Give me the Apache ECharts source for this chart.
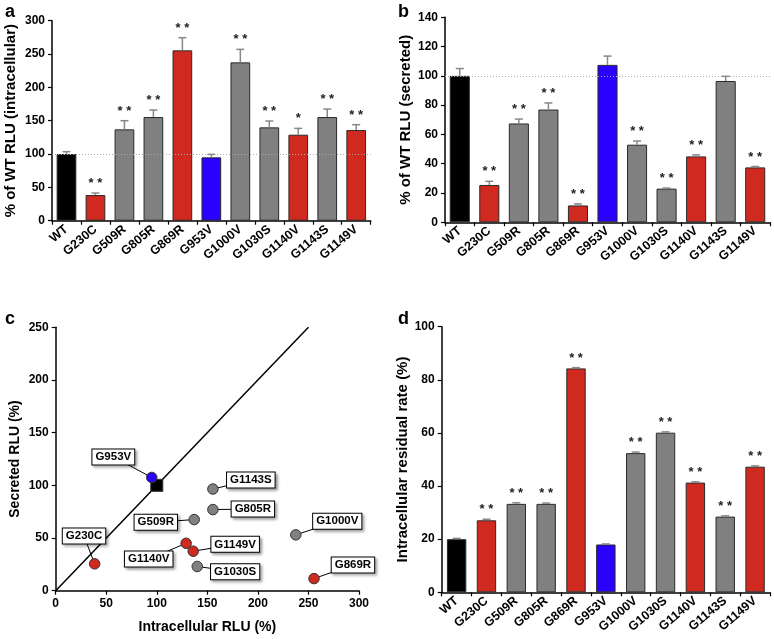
<!DOCTYPE html>
<html>
<head>
<meta charset="utf-8">
<script src="https://cdn.jsdelivr.net/npm/echarts@6/dist/echarts.min.js"></script>
<style>html,body{margin:0;padding:0;background:#fff}#c{width:774px;height:639px}</style>
</head>
<body>
<div id="c"></div>
<script>
// ---- data ----
const categories = ['WT','G230C','G509R','G805R','G869R','G953V','G1000V','G1030S','G1140V','G1143S','G1149V'];
const groups = ['wt','red','gray','gray','red','blue','gray','gray','red','gray','red'];
const intracellular = [100, 38.5, 137, 155.5, 255.5, 95, 237.5, 140, 129, 155.5, 136];
const intracellularErr = [3.5, 3, 13, 10.5, 19, 4.5, 19.5, 9.5, 9.5, 12, 8];
const intracellularSig = ['', '**', '**', '**', '**', '', '**', '**', '*', '**', '**'];
const secreted = [100, 25.5, 67.5, 77, 11.5, 107.5, 53, 23, 45, 96.5, 37.5];
const secretedErr = [5, 2.5, 3, 4.5, 1, 6, 2.5, 0.4, 1, 3.2, 0.6];
const secretedSig = ['', '**', '**', '**', '**', '', '**', '**', '**', '', '**'];
const residual = [20, 27.1, 33.3, 33.3, 84.3, 18, 52.4, 60.1, 41.3, 28.5, 47.3];
const residualErr = [0.3, 0.4, 0.4, 0.3, 0.3, 0.2, 0.4, 0.3, 0.3, 0.3, 0.3];
const residualSig = ['', '**', '**', '**', '**', '', '**', '**', '**', '**', '**'];
const ticksA = [0, 300, 50];
const ticksB = [0, 140, 20];
const ticksCx = [0, 300, 50];
const ticksCy = [0, 250, 50];
const ticksD = [0, 100, 20];
const diagonal = [[0, 0], [250, 250]];
// scatter label box anchors (data units), layout only
const labelAnchors = {
  G230C: [28, 52], G509R: [99, 65], G805R: [195, 77.5], G869R: [294, 24.5],
  G953V: [57, 127], G1000V: [278.5, 66], G1030S: [177.5, 18], G1140V: [92, 30],
  G1143S: [193, 105], G1149V: [177.5, 44]
};

// ---- styles ----
const colorMap = {wt: '#000000', red: '#d0291f', gray: '#808080', blue: '#2a00ff'};
const FONT = 'Liberation Sans, Arial, sans-serif';
const axisLine = {show: true, lineStyle: {color: '#000', width: 1.5}};
const axisTick = {show: true, inside: false, length: 4, lineStyle: {color: '#000', width: 1.2}};
const tickLabel = {color: '#000', fontWeight: 'bold', fontSize: 12, fontFamily: FONT};
const nameStyle = {color: '#000', fontWeight: 'bold', fontSize: 15, fontFamily: FONT};

const chart = echarts.init(document.getElementById('c'));

function catAxis(gi) {
  return {
    type: 'category', gridIndex: gi, data: categories,
    axisLine: axisLine, axisTick: Object.assign({}, axisTick, {alignWithLabel: false}),
    axisLabel: Object.assign({}, tickLabel, {fontSize: 12.5, rotate: 40, margin: 7, interval: 0}),
    splitLine: {show: false}
  };
}
function valAxis(gi, t, name, gap, fs) {
  return {
    type: 'value', gridIndex: gi, min: t[0], max: t[1], interval: t[2],
    name: name, nameLocation: 'middle', nameGap: gap,
    nameTextStyle: Object.assign({}, nameStyle, {fontSize: fs || 15}),
    axisLine: axisLine, axisTick: axisTick, axisLabel: Object.assign({}, tickLabel, {margin: 7}),
    splitLine: {show: false}
  };
}
function barSeries(gi, vals, bw, refLine) {
  const s = {
    type: 'bar', xAxisIndex: gi, yAxisIndex: gi, barWidth: bw,
    data: vals.map((v, i) => ({value: v, itemStyle: {color: colorMap[groups[i]]}})),
    itemStyle: {borderColor: '#2a2a2a', borderWidth: 1},
    silent: true, animation: false
  };
  if (refLine) {
    s.markLine = {
      silent: true, symbol: 'none', label: {show: false},
      lineStyle: {type: [1, 2], color: '#aaa', width: 1},
      data: [{yAxis: refLine}]
    };
  }
  return s;
}
function errSeries(gi, vals, errs, sigs) {
  return {
    type: 'custom', xAxisIndex: gi, yAxisIndex: gi, animation: false, silent: true, z: 5,
    data: vals.map((v, i) => [i, v, errs[i]]),
    renderItem: function (params, api) {
      const i = api.value(0), v = api.value(1), e = api.value(2);
      const base = api.coord([i, v]);
      const top = api.coord([i, v + e]);
      const children = [
        {type: 'line', shape: {x1: base[0], y1: base[1], x2: top[0], y2: top[1]}, style: {stroke: '#888', lineWidth: 1.5}},
        {type: 'line', shape: {x1: top[0] - 4, y1: top[1], x2: top[0] + 4, y2: top[1]}, style: {stroke: '#888', lineWidth: 1.5}}
      ];
      const s = sigs[params.dataIndex];
      if (s) {
        children.push({type: 'text', style: {text: s.split('').join(' '), x: top[0], y: top[1] - 3, align: 'center', verticalAlign: 'bottom',
          fill: '#222', font: 'bold 13px ' + FONT}});
      }
      return {type: 'group', children: children};
    }
  };
}

const option = {
  backgroundColor: '#fff',
  animation: false,
  textStyle: {fontFamily: FONT},
  grid: [
    {left: 52, top: 20.7, width: 318.7, height: 200},
    {left: 445, top: 17.3, width: 325, height: 205},
    {left: 55.7, top: 327.3, width: 303.3, height: 263.4},
    {left: 441.7, top: 326.7, width: 328.3, height: 265.6}
  ],
  xAxis: [
    catAxis(0), catAxis(1),
    {type: 'value', gridIndex: 2, min: ticksCx[0], max: ticksCx[1], interval: ticksCx[2],
      name: 'Intracellular RLU (%)', nameLocation: 'middle', nameGap: 29,
      nameTextStyle: Object.assign({}, nameStyle, {fontSize: 14}),
      axisLine: axisLine, axisTick: axisTick, axisLabel: Object.assign({}, tickLabel, {margin: 7}), splitLine: {show: false}},
    catAxis(3)
  ],
  yAxis: [
    valAxis(0, ticksA, '% of WT RLU (intracellular)', 34),
    valAxis(1, ticksB, '% of WT RLU (secreted)', 32),
    valAxis(2, ticksCy, 'Secreted RLU (%)', 34, 14),
    valAxis(3, ticksD, 'Intracellular residual rate (%)', 30)
  ],
  graphic: [
    {type: 'text', left: 5, top: 3, style: {text: 'a', font: 'bold 18px ' + FONT, fill: '#000'}},
    {type: 'text', left: 398, top: 3, style: {text: 'b', font: 'bold 18px ' + FONT, fill: '#000'}},
    {type: 'text', left: 5, top: 310, style: {text: 'c', font: 'bold 18px ' + FONT, fill: '#000'}},
    {type: 'text', left: 398, top: 310, style: {text: 'd', font: 'bold 18px ' + FONT, fill: '#000'}}
  ],
  series: [
    barSeries(0, intracellular, '68%', 100),
    errSeries(0, intracellular, intracellularErr, intracellularSig),
    barSeries(1, secreted, '68%', 100),
    errSeries(1, secreted, secretedErr, secretedSig),
    barSeries(3, residual, '65%', null),
    errSeries(3, residual, residualErr, residualSig),
    {
      type: 'line', xAxisIndex: 2, yAxisIndex: 2, data: diagonal, symbol: 'none', silent: true,
      lineStyle: {color: '#000', width: 1.5}, z: 1
    },
    {
      type: 'custom', xAxisIndex: 2, yAxisIndex: 2, silent: true, z: 2,
      data: categories.map((c, i) => [intracellular[i], secreted[i]]),
      renderItem: function (params, api) {
        const name = categories[params.dataIndex];
        const anchor = labelAnchors[name];
        if (!anchor) return null;
        const p = api.coord([api.value(0), api.value(1)]);
        const b = api.coord(anchor);
        return {type: 'group', children: [
          {type: 'line', shape: {x1: p[0], y1: p[1], x2: b[0], y2: b[1]}, style: {stroke: '#000', lineWidth: 1}},
          {type: 'text', style: {text: name, x: b[0], y: b[1], align: 'center', verticalAlign: 'middle',
            font: 'bold 11.5px ' + FONT, fill: '#000', backgroundColor: '#fff', borderColor: '#000', borderWidth: 1,
            padding: [2, 3, 1, 3], shadowBlur: 3, shadowOffsetX: 2, shadowOffsetY: 2, shadowColor: 'rgba(0,0,0,0.35)'}}
        ]};
      }
    },
    {
      type: 'scatter', xAxisIndex: 2, yAxisIndex: 2, silent: true, z: 3,
      data: categories.map((c, i) => ({
        value: [intracellular[i], secreted[i]],
        symbol: groups[i] === 'wt' ? 'rect' : 'circle',
        symbolSize: groups[i] === 'wt' ? 12 : 10.5,
        itemStyle: {color: colorMap[groups[i]], borderColor: '#333', borderWidth: 1, opacity: 1}
      }))
    }
  ]
};
chart.setOption(option);
</script>
</body>
</html>
